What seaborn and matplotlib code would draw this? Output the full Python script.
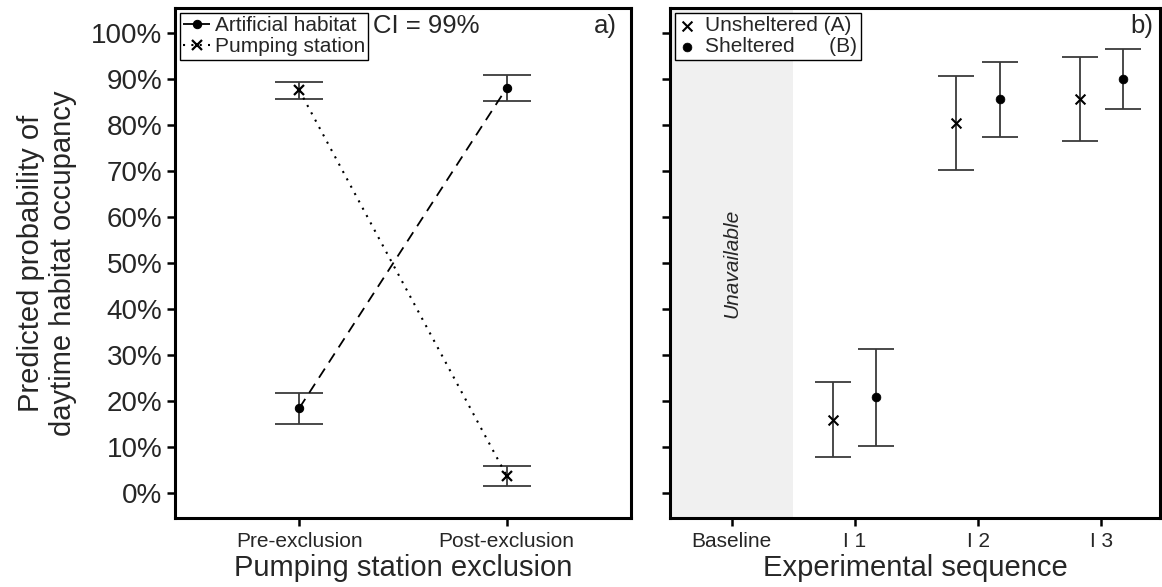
import numpy as np
import pandas as pd
import seaborn as sns
import matplotlib.pyplot as plt
from matplotlib.ticker import PercentFormatter

# panel a) data
phases = ['Pre-exclusion', 'Post-exclusion']
art_mean = [0.185, 0.880]
art_lo = [0.150, 0.852]
art_hi = [0.218, 0.908]
pump_mean = [0.875, 0.038]
pump_lo = [0.856, 0.016]
pump_hi = [0.893, 0.058]

# panel b) data
sequence = ['Baseline', 'I 1', 'I 2', 'I 3']
trials = ['I 1', 'I 2', 'I 3']
unsh_mean = [0.160, 0.804, 0.857]
unsh_lo = [0.078, 0.702, 0.765]
unsh_hi = [0.242, 0.906, 0.948]
shel_mean = [0.209, 0.856, 0.900]
shel_lo = [0.103, 0.774, 0.835]
shel_hi = [0.313, 0.937, 0.965]

sns.set_theme(style='white')
plt.rcParams['font.family'] = ['Liberation Sans', 'DejaVu Sans']

fig = plt.figure(figsize=(11.62, 5.87), dpi=100)
ax1 = fig.add_axes([0.1506, 0.1175, 0.3924, 0.8689])
ax2 = fig.add_axes([0.5766, 0.1175, 0.4220, 0.8689], sharey=ax1)

ecol = '#3a3a3a'

# ---- panel a
df_a = pd.DataFrame({
    'phase': phases * 2,
    'p': art_mean + pump_mean,
    'group': ['Artificial habitat'] * 2 + ['Pumping station'] * 2,
})
xa = np.arange(len(phases))
ax1.errorbar(xa, art_mean, yerr=[np.subtract(art_mean, art_lo), np.subtract(art_hi, art_mean)],
             fmt='none', ecolor=ecol, elinewidth=1.3, capsize=17, capthick=1.3, zorder=2)
ax1.errorbar(xa, pump_mean, yerr=[np.subtract(pump_mean, pump_lo), np.subtract(pump_hi, pump_mean)],
             fmt='none', ecolor=ecol, elinewidth=1.3, capsize=17, capthick=1.3, zorder=2)
sns.lineplot(data=df_a[df_a.group == 'Artificial habitat'], x='phase', y='p', ax=ax1,
             color='black', linestyle=(0, (6, 4)), linewidth=1.3, marker='o', markersize=6,
             markeredgecolor='black', label='Artificial habitat', zorder=3)
sns.lineplot(data=df_a[df_a.group == 'Pumping station'], x='phase', y='p', ax=ax1,
             color='black', linestyle=(0, (1, 3)), linewidth=1.5, marker='x', markersize=7,
             markeredgewidth=1.6, markeredgecolor='black', label='Pumping station', zorder=3)
ax1.set_xlim(-0.6, 1.6)
ax1.set_ylim(-0.054, 1.054)
ax1.set_xlabel('Pumping station exclusion', fontsize=21, labelpad=2)
ax1.set_ylabel('Predicted probability of\ndaytime habitat occupancy', fontsize=21, labelpad=10)
ax1.text(0.435, 0.965, 'CI = 99%', transform=ax1.transAxes, fontsize=18.5, va='center')
ax1.text(0.97, 0.965, 'a)', transform=ax1.transAxes, fontsize=18.5, va='center', ha='right')
leg1 = ax1.legend(loc='upper left', fontsize=15, handlelength=1.3, handletextpad=0.2,
                  borderpad=0.15, borderaxespad=0.25, labelspacing=0.1, fancybox=False,
                  edgecolor='black', framealpha=1)
leg1.get_frame().set_linewidth(1.0)

# ---- panel b
pos = {c: i for i, c in enumerate(sequence)}
xb = np.array([pos[t] for t in trials], dtype=float)
dodge = 0.175
ax2.axvspan(-0.5, 0.5, color='#f0f0f0', zorder=0, lw=0)
ax2.errorbar(xb - dodge, unsh_mean, yerr=[np.subtract(unsh_mean, unsh_lo), np.subtract(unsh_hi, unsh_mean)],
             fmt='none', ecolor=ecol, elinewidth=1.3, capsize=13, capthick=1.3, zorder=2)
ax2.errorbar(xb + dodge, shel_mean, yerr=[np.subtract(shel_mean, shel_lo), np.subtract(shel_hi, shel_mean)],
             fmt='none', ecolor=ecol, elinewidth=1.3, capsize=13, capthick=1.3, zorder=2)
sns.scatterplot(x=xb - dodge, y=unsh_mean, ax=ax2, marker='x', s=50, color='black',
                linewidth=1.5, label='Unsheltered (A)', zorder=3)
sns.scatterplot(x=xb + dodge, y=shel_mean, ax=ax2, marker='o', s=40, color='black',
                edgecolor='black', label='Sheltered      (B)', zorder=3)
ax2.text(0, 0.5, 'Unavailable', rotation=90, fontstyle='italic', fontsize=15,
         ha='center', va='center')
ax2.set_xticks(range(len(sequence)))
ax2.set_xticklabels(sequence)
ax2.set_xlim(-0.5, 3.48)
ax2.set_xlabel('Experimental sequence', fontsize=21, labelpad=2)
ax2.set_ylabel('')
ax2.tick_params(axis='y', labelleft=False)
ax2.text(0.985, 0.965, 'b)', transform=ax2.transAxes, fontsize=18.5, va='center', ha='right')
leg2 = ax2.legend(loc='upper left', fontsize=15, handlelength=0.8, handletextpad=0.5,
                  borderpad=0.15, borderaxespad=0.25, labelspacing=0.1, fancybox=False,
                  edgecolor='black', framealpha=1)
leg2.get_frame().set_linewidth(1.0)

for ax in (ax1, ax2):
    ax.set_yticks(np.arange(0, 1.01, 0.1))
    ax.yaxis.set_major_formatter(PercentFormatter(1.0, decimals=0))
    ax.tick_params(axis='both', direction='out', length=6, width=1.8, color='black',
                   bottom=True, left=True)
    ax.tick_params(axis='y', labelsize=20, pad=3)
    ax.tick_params(axis='x', labelsize=15, pad=4)
    for s in ax.spines.values():
        s.set_color('black')
        s.set_linewidth(2.2)

fig.savefig('out.png', dpi=100)
